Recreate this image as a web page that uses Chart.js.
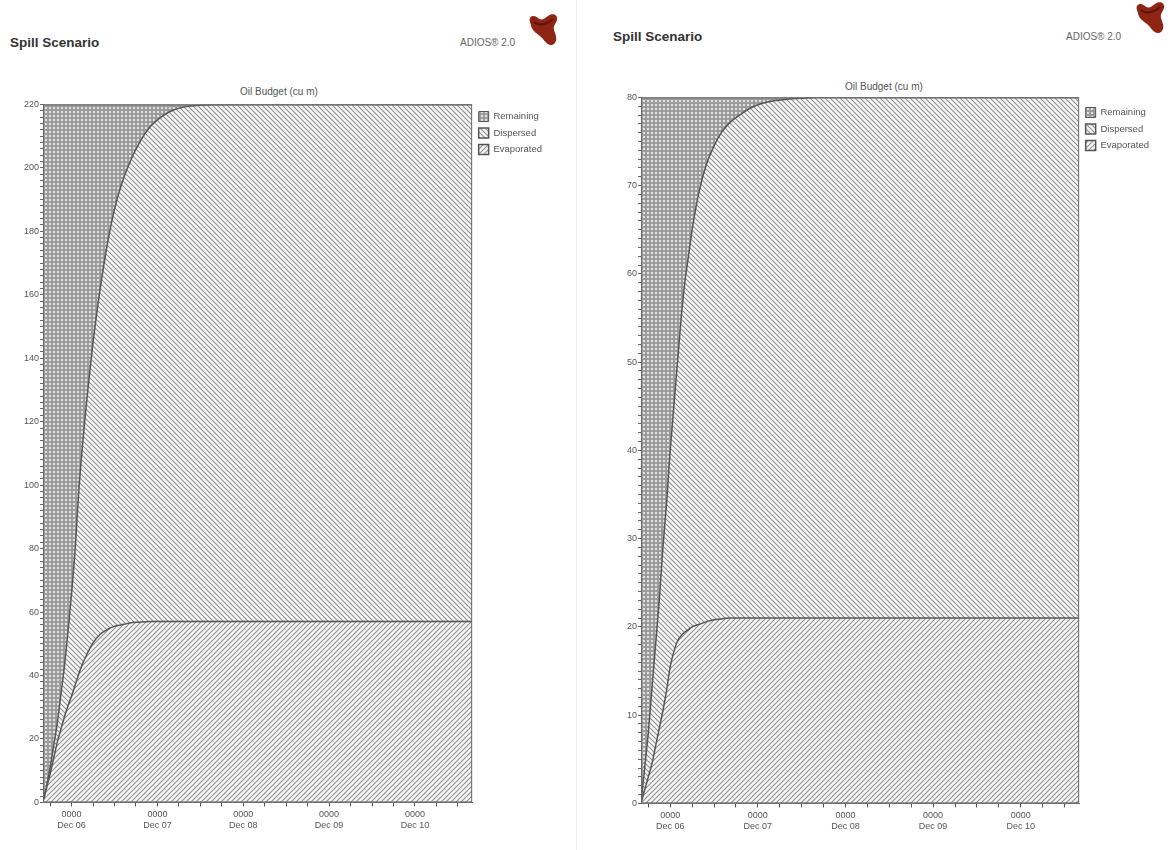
<!DOCTYPE html>
<html>
<head>
<meta charset="utf-8">
<script src="https://cdn.jsdelivr.net/npm/chart.js@4.4.1/dist/chart.umd.min.js"></script>
<style>
  html, body { margin: 0; padding: 0; background: #fff; }
  body { width: 1171px; height: 850px; position: relative; overflow: hidden; font-family: "Liberation Sans", Arial, sans-serif; }
  .title { position: absolute; font-weight: bold; font-size: 13.5px; color: #333; }
  .brand { position: absolute; font-size: 10px; color: #666; }
  .sub { position: absolute; font-size: 10px; color: #555; }
  .logo { position: absolute; }
  .box { position: absolute; }
  .divider { position: absolute; left: 576px; top: 0; width: 1px; height: 850px; background: #eee; }
</style>
</head>
<body>
<div class="title" style="left:10px; top:35px;">Spill Scenario</div>
<div class="brand" style="left:460px; top:37px;">ADIOS® 2.0</div>
<svg class="logo" style="left:524px; top:10px;" width="40" height="40" viewBox="0 0 40 40">
  <path d="M6 12 C4 6 10 4 14 8 C18 11 20 9 24 6 C28 3 34 4 33 10 C32 14 29 15 30 20 C32 26 34 30 30 34 C26 37 22 33 19 29 C16 25 12 24 9 20 C7 17 7 15 6 12 Z" fill="#8e2413"/>
  <path d="M10 12 C12 14 16 15 20 14 C24 13 27 11 29 9" stroke="#5c150a" stroke-width="2" fill="none"/>
</svg>
<div class="sub" style="left:240px; top:86px;">Oil Budget (cu m)</div>
<div class="divider"></div>
<div class="title" style="left:613px; top:29px;">Spill Scenario</div>
<div class="brand" style="left:1066px; top:31px;">ADIOS® 2.0</div>
<svg class="logo" style="left:1131px; top:0px;" width="40" height="38" viewBox="0 0 40 38">
  <path d="M6 10 C4 4 10 2 14 6 C18 9 20 7 24 4 C28 1 34 2 33 8 C32 12 29 13 30 18 C32 24 34 28 30 32 C26 35 22 31 19 27 C16 23 12 22 9 18 C7 15 7 13 6 10 Z" fill="#8e2413"/>
  <path d="M10 10 C12 12 16 13 20 12 C24 11 27 9 29 7" stroke="#5c150a" stroke-width="2" fill="none"/>
</svg>
<div class="sub" style="left:845px; top:81px;">Oil Budget (cu m)</div>

<div class="box" style="left:0px; top:98px; width:556px; height:736px;"><canvas id="left"></canvas></div>
<div class="box" style="left:598px; top:91px; width:565px; height:744px;"><canvas id="right"></canvas></div>

<script>
// hours since spill start (Dec 05 16:00)
const hours = [0, 1, 2, 3, 4, 5, 6, 7, 8, 9, 10, 11, 12, 13, 14, 16, 18, 20, 22, 24, 27, 30, 33, 36, 40, 44, 48, 60, 72, 96, 120];

// left scenario, cu m
const leftEvaporated = [0, 4.5, 9, 14, 19, 23, 27, 30.5, 33.5, 37, 40.5, 43.5, 46, 48.3, 50.3, 53, 54.5, 55.5, 56, 56.5, 56.8, 57, 57, 57, 57, 57, 57, 57, 57, 57, 57];
const leftDispersed = [0, 0.5, 2, 4, 6, 11, 16, 23.5, 32.5, 43, 57.5, 68.5, 78, 86.7, 94.7, 109, 121.5, 131.5, 139, 144.5, 151.2, 156, 159, 161, 162.3, 162.7, 162.9, 163, 163, 163, 163];
const leftRemaining = [220, 215, 209, 202, 195, 186, 177, 166, 154, 140, 122, 108, 96, 85, 75, 58, 44, 33, 25, 19, 12, 7, 4, 2, 0.7, 0.3, 0.1, 0, 0, 0, 0];

// right scenario, cu m
const rightEvaporated = [0, 1.5, 3, 4.5, 6.5, 8.5, 10.5, 12.8, 15.5, 17.2, 18.4, 19, 19.4, 19.7, 20, 20.3, 20.6, 20.8, 20.9, 21, 21, 21, 21, 21, 21, 21, 21, 21, 21, 21, 21];
const rightDispersed = [0, 2.5, 5, 8.5, 11.5, 14.5, 18.5, 21.2, 24.5, 27.8, 31.6, 36, 39.6, 42.3, 45, 49.2, 51.9, 53.7, 55.1, 56, 57, 57.8, 58.3, 58.6, 58.8, 58.9, 59, 59, 59, 59, 59];
const rightRemaining = [80, 76, 72, 67, 62, 57, 51, 46, 40, 35, 30, 25, 21, 18, 15, 10.5, 7.5, 5.5, 4, 3, 2, 1.2, 0.7, 0.4, 0.2, 0.1, 0, 0, 0, 0, 0];

// x tick labels (midnight of each day)
const xTickHours = [8, 32, 56, 80, 104];
const xTickLabels = [['0000', 'Dec 06'], ['0000', 'Dec 07'], ['0000', 'Dec 08'], ['0000', 'Dec 09'], ['0000', 'Dec 10']];
const xMinorStep = 6;

const FONT = '"Liberation Sans", Arial, sans-serif';

function hatch(dir) {
  const s = 5;
  const c = document.createElement('canvas');
  c.width = s; c.height = s;
  const g = c.getContext('2d');
  g.fillStyle = '#f7f7f7';
  g.fillRect(0, 0, s, s);
  g.strokeStyle = '#8e8e8e';
  g.lineWidth = 1.1;
  for (let k = -1; k <= 2; k++) {
    g.beginPath();
    if (dir === 'back') { g.moveTo(-1, k * s - 1); g.lineTo(s + 1, k * s + s + 1); }
    else { g.moveTo(-1, k * s + 1); g.lineTo(s + 1, k * s - s - 1); }
    g.stroke();
  }
  return g.createPattern(c, 'repeat');
}

function cross() {
  const c = document.createElement('canvas');
  c.width = 4; c.height = 4;
  const g = c.getContext('2d');
  g.fillStyle = '#9c9c9c';
  g.fillRect(0, 0, 4, 4);
  g.fillStyle = '#e2e2e2';
  g.fillRect(1, 1, 2, 2);
  return g.createPattern(c, 'repeat');
}

const framePlugin = {
  id: 'frame',
  afterDatasetsDraw(chart) {
    const a = chart.chartArea, ctx = chart.ctx;
    ctx.save();
    ctx.strokeStyle = '#666';
    ctx.lineWidth = 1;
    ctx.strokeRect(a.left + 0.5, a.top + 0.5, a.right - a.left - 1, a.bottom - a.top - 1);
    ctx.restore();
  }
};

function pts(vals) {
  return vals.map((v, i) => ({ x: hours[i], y: v }));
}

function makeChart(id, evap, disp, rem, yMax, yStep, yMinor, yWidth, legendGap) {
  const line = { pointRadius: 0, borderWidth: 1.5, cubicInterpolationMode: 'monotone' };
  new Chart(document.getElementById(id), {
    type: 'line',
    data: {
      datasets: [
        Object.assign({ label: 'Evaporated', data: pts(evap), backgroundColor: hatch('fwd'), borderColor: '#555', fill: 'origin' }, line),
        Object.assign({ label: 'Dispersed', data: pts(disp), backgroundColor: hatch('back'), borderColor: '#555', fill: '-1' }, line),
        Object.assign({ label: 'Remaining', data: pts(rem), backgroundColor: cross(), borderColor: '#555', fill: '-1' }, line, { borderWidth: 1 })
      ]
    },
    options: {
      responsive: true,
      maintainAspectRatio: false,
      animation: false,
      events: [],
      layout: { padding: { left: 0, right: 4, top: 0, bottom: 0 } },
      plugins: {
        title: { display: false },
        legend: {
          position: 'right', align: 'start', reverse: true,
          title: { display: true, text: ' ', padding: 0, font: { family: FONT, size: legendGap, lineHeight: 1 } },
          labels: { boxWidth: 10, boxHeight: 10, padding: 6.5, color: '#555', font: { family: FONT, size: 9.5 } }
        },
        tooltip: { enabled: false }
      },
      scales: {
        x: {
          type: 'linear', min: 0, max: 120,
          afterBuildTicks(scale) {
            const t = [];
            for (let h = 2; h <= 120; h += xMinorStep) t.push({ value: h });
            scale.ticks = t;
          },
          ticks: {
            autoSkip: false, maxRotation: 0, padding: 3, color: '#555', font: { family: FONT, size: 9 },
            callback(v) { const i = xTickHours.indexOf(v); return i >= 0 ? xTickLabels[i] : ''; }
          },
          grid: { drawOnChartArea: false, drawTicks: true, tickLength: 4, tickColor: '#555' },
          border: { display: true, color: '#666' }
        },
        y: {
          stacked: true, min: 0, max: yMax,
          afterBuildTicks(scale) {
            const t = [];
            for (let v = 0; v <= yMax; v += yMinor) t.push({ value: v });
            scale.ticks = t;
          },
          afterFit(scale) { scale.width = yWidth; },
          ticks: {
            autoSkip: false, padding: 1, color: '#555', font: { family: FONT, size: 9 },
            callback(v) { return v % yStep === 0 ? String(v) : ''; }
          },
          grid: { drawOnChartArea: false, drawTicks: true, tickLength: 3, tickColor: '#666' },
          border: { display: true, color: '#666' }
        }
      }
    },
    plugins: [framePlugin]
  });
}

makeChart('left', leftEvaporated, leftDispersed, leftRemaining, 220, 20, 2, 43, 7);
makeChart('right', rightEvaporated, rightDispersed, rightRemaining, 80, 10, 1, 43, 10);
</script>
</body>
</html>
